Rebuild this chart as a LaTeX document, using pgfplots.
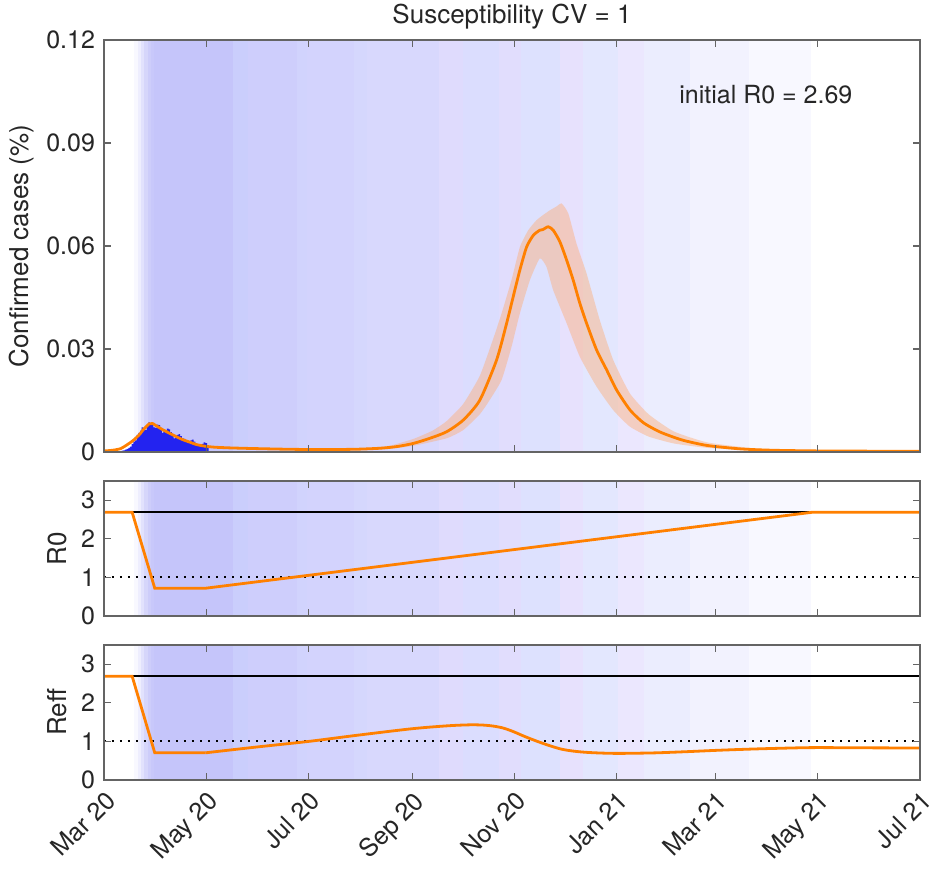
\documentclass[border=0pt]{standalone}
\usepackage{fontspec}
\setmainfont{TeX Gyre Heros}
\usepackage{pgfplots}
\pgfplotsset{compat=1.18}
\definecolor{mlorange}{RGB}{255,128,0}
\definecolor{bandorange}{RGB}{255,170,110}
\definecolor{axgray}{RGB}{100,100,100}
\definecolor{txtgray}{RGB}{38,38,38}
\definecolor{barblue}{RGB}{35,35,240}

% one vertical background strip: x1 x2 r g b ymax
\newcommand{\band}[6]{\addplot[draw=none, fill={rgb,255:red,#3;green,#4;blue,#5}, forget plot] coordinates {(#1,#6) (#2,#6)} \closedcycle;}
\newcommand{\bands}[1]{%
  \band{18}{20.3}{248}{248}{255}{#1}
  \band{20}{22.3}{238}{238}{254}{#1}
  \band{22}{24.3}{226}{226}{253}{#1}
  \band{24}{26.3}{214}{214}{251}{#1}
  \band{26}{28.3}{205}{205}{250}{#1}
  \band{28}{30.3}{200}{200}{250}{#1}
  \band{30}{77.3}{197}{197}{250}{#1}
  \band{77}{86.3}{202}{206}{252}{#1}
  \band{86}{115.3}{206}{206}{252}{#1}
  \band{115}{121.3}{209}{211}{253}{#1}
  \band{121}{149.3}{211}{211}{253}{#1}
  \band{149}{157.3}{213}{215}{253}{#1}
  \band{157}{200.3}{216}{216}{253}{#1}
  \band{200}{214.3}{223}{219}{253}{#1}
  \band{214}{236.3}{219}{221}{254}{#1}
  \band{236}{249.3}{225}{221}{253}{#1}
  \band{249}{272.3}{221}{225}{254}{#1}
  \band{272}{286.3}{231}{225}{253}{#1}
  \band{286}{307.3}{227}{231}{254}{#1}
  \band{307}{322.3}{235}{231}{254}{#1}
  \band{322}{350.3}{235}{237}{254}{#1}
  \band{350}{385.3}{242}{242}{254}{#1}
  \band{385}{422}{248}{248}{255}{#1}
}

\pgfplotsset{panel/.style={
  width=408pt, scale only axis, xmin=0, xmax=487, ymin=0,
  xtick={0,61,122,184,245,306,365,426,487},
  axis on top, tick align=inside, major tick length=3.5pt,
  axis line style={axgray, line width=0.6pt},
  tick style={axgray, line width=0.6pt},
  tick label style={font=\fontsize{12.5}{14}\selectfont, text=txtgray},
  label style={font=\fontsize{13}{15}\selectfont, text=txtgray},
  yticklabel style={xshift=-1pt},
  /pgf/number format/assume math mode=true,
}}

\begin{document}
\begin{tikzpicture}
\useasboundingbox (-52pt,20pt) rectangle (416pt,-416pt);

% ---- confirmed cases
\begin{axis}[panel, at={(0,0)}, anchor=north west, height=206pt,
  ymax=0.12, ytick={0,0.03,0.06,0.09,0.12}, yticklabels={0,0.03,0.06,0.09,0.12},
  xticklabels={},
  ylabel={Confirmed cases (\%)},
  ylabel style={at={([xshift=-41pt]axis description cs:0,0.5)}, anchor=center},
  title={Susceptibility CV = 1},
  title style={font=\fontsize{13}{15}\selectfont, text=txtgray, inner sep=1pt, yshift=-2pt},
]
\bands{0.12}
\addplot[draw=none, fill=bandorange, fill opacity=0.42, smooth, tension=0.3, forget plot] coordinates {
 (150,0.0010)(170,0.0018)(184.6,0.0038)(196,0.0062)(204.5,0.0090)(214.4,0.0140)(224.3,0.0222)(232.3,0.0330)
 (237.3,0.0404)(243.2,0.0501)(248.2,0.0597)(253.2,0.0646)(258.1,0.0675)(262,0.0690)
 (266.1,0.0704)(270,0.0715)(273.1,0.0724)(277.1,0.0695)(282,0.0607)(288,0.0520)
 (295.9,0.0384)(303.9,0.0268)(313.8,0.0171)(325,0.0110)(340,0.0060)(360,0.0028)
 (390,0.0010)(430,0.0004)(487,0.0002)
 (487,0.0001)(430,0.0002)(390,0.0005)(360,0.0012)(340,0.0025)(325,0.0045)
 (313.8,0.0074)(303.9,0.0122)(294,0.0190)(284,0.0277)(276.1,0.0375)(268.1,0.0471)
 (264.1,0.0539)(260.1,0.0564)(254.2,0.0501)(248.2,0.0404)(243.2,0.0306)(237.3,0.0210)
 (230,0.0150)(224.3,0.0110)(214.4,0.0064)(204.5,0.0040)(184.6,0.0018)(170,0.0009)(150,0.0005)
} -- cycle;
\addplot[ybar, bar width=1, fill=barblue, draw=none, forget plot] coordinates {
 (11,0.0004)(12,0.0005)(13,0.0007)(14,0.0009)(15,0.0012)(16,0.0016)(17,0.0024)
 (18,0.0030)(19,0.0034)(20,0.0050)(21,0.0056)(22,0.0062)(23,0.0072)(24,0.0068)
 (25,0.0064)(26,0.0078)(27,0.0086)(28,0.0084)(29,0.0080)(30,0.0072)(31,0.0070)
 (32,0.0080)(33,0.0078)(34,0.0066)(35,0.0056)(36,0.0060)(37,0.0062)(38,0.0068)
 (39,0.0066)(40,0.0058)(41,0.0048)(42,0.0040)(43,0.0042)(44,0.0050)(45,0.0052)
 (46,0.0046)(47,0.0040)(48,0.0038)(49,0.0034)(50,0.0030)(51,0.0026)(52,0.0034)
 (53,0.0036)(54,0.0030)(55,0.0024)(56,0.0022)(57,0.0020)(58,0.0018)(59,0.0024)
 (60,0.0028)(61,0.0026)(62,0.0020)
};
\addplot[red, line width=0.6pt, forget plot] coordinates {(11,0.0002)(62.5,0.0002)};
\addplot[mlorange, line width=1.4pt, smooth, tension=0.4] coordinates {
 (0,0.0003)(5,0.0005)(10,0.0010)(15,0.0025)(18,0.0036)(21,0.0050)(24,0.0068)
 (27,0.0082)(29,0.0083)(31,0.0077)(35,0.0065)(39,0.0055)(43,0.0045)(47,0.0036)
 (51,0.0029)(55,0.0022)(60,0.0017)(66,0.0014)(75,0.0012)(90,0.0010)(110,0.0008)
 (130,0.0007)(150,0.0008)(165,0.0011)(175,0.0016)(184.6,0.0025)(194.5,0.0040)
 (204.5,0.0059)(214.4,0.0093)(224.3,0.0151)(234.3,0.0268)(240.3,0.0375)
 (244.2,0.0452)(248.2,0.0530)(252.2,0.0597)(256.2,0.0631)(260.1,0.0646)
 (262,0.0648)(265.1,0.0656)(268.1,0.0646)(272.1,0.0612)(276.1,0.0559)
 (280,0.0501)(284,0.0433)(288,0.0375)(294,0.0297)(300,0.0239)(306,0.0180)
 (314,0.0122)(322,0.0085)(332,0.0058)(345,0.0035)(360,0.0019)(380,0.0009)
 (400,0.0005)(430,0.0003)(487,0.0002)
};
\node[font=\fontsize{12.5}{14}\selectfont, text=txtgray] at (axis cs:395,0.104) {initial R0 = 2.69};
\end{axis}

% ---- R0
\begin{axis}[panel, at={(0,-220.5pt)}, anchor=north west, height=67.5pt,
  ymax=3.5, ytick={0,1,2,3}, xticklabels={},
  ylabel={R0},
  ylabel style={at={([xshift=-23.5pt]axis description cs:0,0.5)}, anchor=center},
]
\bands{3.5}
\addplot[black, line width=0.8pt] coordinates {(0,2.69)(487,2.69)};
\addplot[black, line width=1pt, dash pattern=on 1.1pt off 2.9pt] coordinates {(0,1)(487,1)};
\addplot[mlorange, line width=1.4pt] coordinates {
 (0,2.69)(16.8,2.69)(30.3,0.72)(60.6,0.72)(422.7,2.69)(487,2.69)
};
\end{axis}

% ---- Reff
\begin{axis}[panel, at={(0,-302.5pt)}, anchor=north west, height=67.5pt,
  ymax=3.5, ytick={0,1,2,3},
  xticklabels={Mar 20,May 20,Jul 20,Sep 20,Nov 20,Jan 21,Mar 21,May 21,Jul 21},
  xticklabel style={rotate=45, anchor=north east},
  ylabel={Reff},
  ylabel style={at={([xshift=-23.5pt]axis description cs:0,0.5)}, anchor=center},
]
\bands{3.5}
\addplot[black, line width=0.8pt] coordinates {(0,2.69)(487,2.69)};
\addplot[black, line width=1pt, dash pattern=on 1.1pt off 2.9pt] coordinates {(0,1)(487,1)};
\addplot[mlorange, line width=1.4pt] coordinates {
 (0,2.69)(16.8,2.69)(30.3,0.705)(60.6,0.705)
};
\addplot[mlorange, line width=1.4pt, smooth, tension=0.5] coordinates {
 (60.6,0.705)(91,0.855)(122,1.0)(152,1.165)(184,1.33)(205,1.405)(218,1.43)
 (226,1.425)(232,1.40)(238,1.35)(244,1.26)(251,1.13)(258.7,1.0)(266,0.89)
 (273,0.80)(280,0.75)(287,0.72)(296,0.70)(306,0.69)(318,0.695)(330,0.705)
 (348,0.735)(366,0.77)(385,0.80)(401,0.82)(423,0.84)(450,0.835)(487,0.83)
};
\end{axis}
\end{tikzpicture}
\end{document}
